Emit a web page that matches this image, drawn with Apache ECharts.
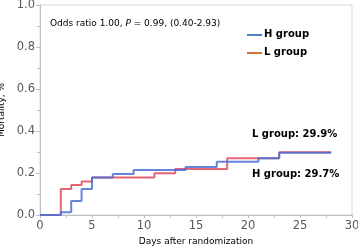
<!DOCTYPE html>
<html><head><meta charset="utf-8">
<script src="https://cdn.jsdelivr.net/npm/echarts@6/dist/echarts.min.js"></script>
<style>html,body{margin:0;padding:0;background:#fff}#c{width:358px;height:248px}</style>
</head><body><div id="c"></div>
<script>
// Data (Kaplan-Meier style steps: [day, mortality])
const hGroup = [[0,0],[2,0.013],[3,0.067],[4,0.124],[5,0.178],[7,0.195],[9,0.214],[14,0.229],[17,0.254],[21,0.27],[23,0.297],[28,0.297]];
const lGroup = [[0,0],[2,0.124],[3,0.143],[4,0.16],[5,0.178],[11,0.199],[13,0.219],[18,0.27],[23,0.299],[28,0.299]];
const seriesNames = ['H group','L group'];
const annotation = 'Odds ratio 1.00, ';
const lLabel = 'L group: 29.9%';
const hLabel = 'H group: 29.7%';

const chart = echarts.init(document.getElementById('c'), null, {renderer:'canvas'});
const font = 'DejaVu Sans';
chart.setOption({
  animation:false,
  grid:{left:40, top:5, right:6, bottom:33, show:true, borderColor:'#d9d9d9', borderWidth:1,
        containLabel:false, outerBoundsMode:'none'},
  xAxis:{type:'value', min:0, max:30, interval:5,
    name:'Days after randomization', nameLocation:'middle', nameGap:21,
    nameTextStyle:{color:'#000', fontSize:9, fontFamily:font},
    axisLine:{lineStyle:{color:'#bfbfbf'}},
    axisTick:{show:true, length:3, lineStyle:{color:'#bfbfbf'}},
    minorTick:{show:true, splitNumber:2, length:3, lineStyle:{color:'#bfbfbf'}},
    axisLabel:{color:'#595959', fontSize:11.5, fontFamily:font, margin:5},
    splitLine:{show:false}},
  yAxis:{type:'value', min:0, max:1, interval:0.2,
    name:'Mortality, %', nameLocation:'middle', nameGap:28,
    nameTextStyle:{color:'#000', fontSize:9, fontFamily:font},
    axisLine:{show:true, lineStyle:{color:'#bfbfbf'}},
    axisTick:{show:true, length:4, lineStyle:{color:'#bfbfbf'}},
    minorTick:{show:true, splitNumber:2, length:3, lineStyle:{color:'#bfbfbf'}},
    axisLabel:{color:'#595959', fontSize:11.5, fontFamily:font, margin:5, formatter:v=>v.toFixed(1)},
    splitLine:{show:false}},
  series:[
    {name:seriesNames[0], type:'line', step:'end', data:hGroup, symbol:'none',
     lineStyle:{color:'#4a6fd8', width:2, opacity:0.85}, z:3},
    {name:seriesNames[1], type:'line', step:'end', data:lGroup, symbol:'none',
     lineStyle:{color:'#e04a5a', width:2, opacity:0.85}, z:2}
  ],
  graphic:[
    {type:'text', x:50, y:19, style:{
      text:'{a|'+annotation+'}{i|P}{a| = 0.99, (0.40-2.93)}',
      rich:{a:{fontFamily:font, fontSize:9, fill:'#000'}, i:{fontFamily:font, fontSize:9, fontStyle:'italic', fill:'#000'}}}},
    {type:'line', shape:{x1:247, y1:35, x2:262, y2:35}, style:{stroke:'#4f81bd', lineWidth:2}},
    {type:'line', shape:{x1:247, y1:53, x2:262, y2:53}, style:{stroke:'#d0703a', lineWidth:2}},
    {type:'text', x:264, y:29, style:{text:seriesNames[0], fontFamily:font, fontSize:10, fontWeight:'bold', fill:'#000'}},
    {type:'text', x:264, y:47, style:{text:seriesNames[1], fontFamily:font, fontSize:10, fontWeight:'bold', fill:'#000'}},
    {type:'text', x:252, y:129, style:{text:lLabel, fontFamily:font, fontSize:10, fontWeight:'bold', fill:'#000'}},
    {type:'text', x:252, y:169, style:{text:hLabel, fontFamily:font, fontSize:10, fontWeight:'bold', fill:'#000'}}
  ]
});
</script></body></html>
